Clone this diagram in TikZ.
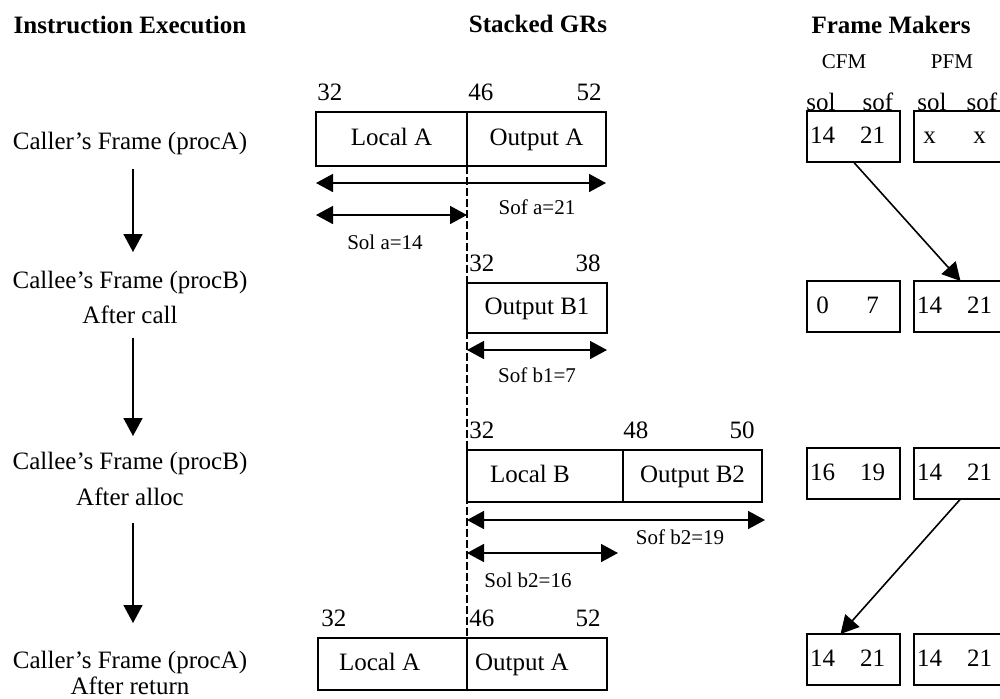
\documentclass[tikz,border=0pt]{standalone}
\usepackage{fontspec}
\setmainfont{Liberation Serif}
\usetikzlibrary{arrows.meta,positioning}

\tikzset{
  head/.style={font=\fontsize{12.5}{15}\selectfont\bfseries},
  small/.style={font=\fontsize{10.5}{12}\selectfont},
  gbox/.style={draw, line width=1pt, inner sep=0pt, outer sep=0pt,
    minimum height=#1, text height=0.66em, text depth=0pt},
  gbox/.default=26pt,
  fmbox/.style={draw, line width=1pt, inner sep=0pt, outer sep=0pt,
    minimum width=46.5pt, minimum height=25.5pt, anchor=north west,
    text height=0.66em, text depth=0pt},
  num/.style={inner sep=0pt},
  span/.style={line width=0.8pt,
    {Triangle[length=8.5pt,width=9pt]}-{Triangle[length=8.5pt,width=9pt]}},
  flow/.style={line width=0.8pt, -{Triangle[length=9pt,width=9.5pt]}},
  regline/.style={line width=0.9pt, dash pattern=on 4pt off 1.5pt}
}
\newcommand{\fmpair}[2]{\hspace*{-6pt}\makebox[25pt]{#1}\makebox[25pt]{#2}}

\begin{document}
\begin{tikzpicture}[x=0.5pt, y=-0.5pt, font=\fontsize{12.5}{15}\selectfont]
  \useasboundingbox (0,0) rectangle (1000,698);
  \clip (0,0) rectangle (1000,698);

  % headings
  \node[head] (hExec) at (130,25) {Instruction Execution};
  \node[head] (hGR) at (538,24) {Stacked GRs};
  \node[head] (hFM) at (891,25) {Frame Makers};

  % instruction steps
  \node (stA) at (130,143) {Caller's Frame (procA)};
  \node (stB) at (130,282) {Callee's Frame (procB)};
  \node (stBcall) at (130,315) {After call};
  \node (stC) at (130,463) {Callee's Frame (procB)};
  \node (stCalloc) at (130,497) {After alloc};
  \node (stD) at (130,662) {Caller's Frame (procA)};
  \node (stDret) at (130,686) {After return};

  \draw[flow] ([shift={(3,26)}]stA.center) -- ([shift={(3,-30)}]stB.center);
  \draw[flow] ([shift={(3,23)}]stBcall.center) -- ([shift={(3,-27)}]stC.center);
  \draw[flow] ([shift={(3,26)}]stCalloc.center) -- ([shift={(3,-39)}]stD.center);

  % stacked GRs
  \node[gbox=27pt, minimum width=75.5pt, anchor=north west] (locA1) at (316,112) {Local A};
  \node[gbox=27pt, minimum width=69.5pt, right=0pt of locA1] (outA1) {Output A};

  \node[gbox=25pt, minimum width=70pt, anchor=north west] (outB1) at (467,283) {Output B1};

  \node[gbox, minimum width=78pt, anchor=north west, align=flush left,
    text width=55pt, inner xsep=11.5pt] (locB) at (467,450) {Local B};
  \node[gbox, minimum width=69.5pt, right=0pt of locB] (outB2) {Output B2};

  \node[gbox, minimum width=74.5pt, anchor=north west, align=flush left,
    text width=53.5pt, inner xsep=10.5pt] (locA2) at (318,638) {Local A};
  \node[gbox, minimum width=70pt, right=0pt of locA2, align=flush left,
    text width=62pt, inner xsep=4pt] (outA2) {Output A};

  % register numbers
  \node[num, anchor=base west] (nA32) at ([shift={(1,-11.5)}]locA1.north west) {32};
  \node[num, anchor=base west] (nA46) at ([shift={(1,-11.5)}]outA1.north west) {46};
  \node[num, anchor=base east] (nA52) at ([shift={(-4,-11.5)}]outA1.north east) {52};
  \node[num, anchor=base west] (nB32) at ([shift={(2,-11.5)}]outB1.north west) {32};
  \node[num, anchor=base east] (nB38) at ([shift={(-6,-11.5)}]outB1.north east) {38};
  \node[num, anchor=base west] (nC32) at ([shift={(2,-11.5)}]locB.north west) {32};
  \node[num, anchor=base west] (nC48) at ([shift={(0,-11.5)}]outB2.north west) {48};
  \node[num, anchor=base east] (nC50) at ([shift={(-7,-11.5)}]outB2.north east) {50};
  \node[num, anchor=base west] (nD32) at ([shift={(3,-11.5)}]locA2.north west) {32};
  \node[num, anchor=base west] (nD46) at ([shift={(2,-11.5)}]outA2.north west) {46};
  \node[num, anchor=base east] (nD52) at ([shift={(-6,-11.5)}]outA2.north east) {52};

  \draw[regline] (locA1.south east) -- (locA2.north east);

  % sizes of the frames
  \draw[span] ([shift={(0,17)}]locA1.south west) -- ([shift={(0,17)}]outA1.south east);
  \draw[span] ([shift={(0,49)}]locA1.south west) -- ([shift={(0,49)}]locA1.south east);
  \node[small] (sofA) at (537,207) {Sof a=21};
  \node[small] (solA) at (385,242) {Sol a=14};

  \draw[span] ([shift={(0,17)}]outB1.south west) -- ([shift={(0,17)}]outB1.south east);
  \node[small] (sofB1) at (537,375) {Sof b1=7};

  \draw[span] ([shift={(0,18)}]locB.south west) -- ([shift={(3,18)}]outB2.south east);
  \draw[span] ([shift={(0,51)}]locB.south west) -- ([shift={(-5,51)}]locB.south east);
  \node[small] (sofB2) at (680,537) {Sof b2=19};
  \node[small] (solB2) at (528,580) {Sol b2=16};

  % frame makers
  \node[small] (cfm) at (844,62) {CFM};
  \node[small] (pfm) at (952,62) {PFM};
  \node[num, anchor=base] (solC) at (821,110) {sol};
  \node[num, anchor=base] (sofC) at (878,110) {sof};
  \node[num, anchor=base] (solP) at (932,110) {sol};
  \node[num, anchor=base] (sofP) at (982,110) {sof};

  \node[fmbox] (cfm1) at (807,111) {\fmpair{14}{21}};
  \node[fmbox] (pfm1) at (914,111) {\fmpair{x}{x}};
  \node[fmbox] (cfm2) at (807,281) {\fmpair{0}{7}};
  \node[fmbox] (pfm2) at (914,281) {\fmpair{14}{21}};
  \node[fmbox] (cfm3) at (807,448) {\fmpair{16}{19}};
  \node[fmbox] (pfm3) at (914,448) {\fmpair{14}{21}};
  \node[fmbox] (cfm4) at (807,634) {\fmpair{14}{21}};
  \node[fmbox] (pfm4) at (914,634) {\fmpair{14}{21}};

  \draw[flow] (cfm1.south) -- (pfm2.north);
  \draw[flow] (pfm3.south) -- ([xshift=-6.5pt]cfm4.north);
\end{tikzpicture}
\end{document}
